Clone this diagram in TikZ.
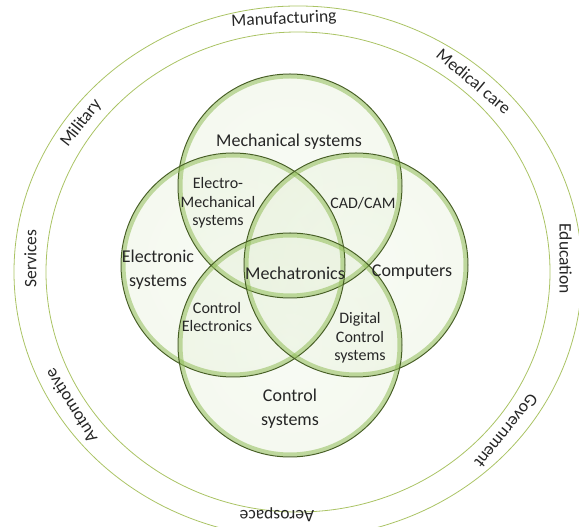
\documentclass[tikz,border=0pt]{standalone}
\usepackage{fontspec}
\setmainfont{Carlito}
\usetikzlibrary{calc}
\definecolor{vgreen}{RGB}{146,190,90}
\definecolor{vdark}{RGB}{70,95,35}
\definecolor{ringgreen}{RGB}{170,195,100}
\pgfdeclareradialshading{glossy}{\pgfpoint{0bp}{0bp}}{%
  color(0bp)=(vgreen!14); color(34bp)=(vgreen!24); color(46bp)=(vgreen!45); color(50bp)=(vgreen!80)}
\tikzset{
  ring/.style={draw=ringgreen, line width=0.8pt},
  venn/.style={shading=glossy, fill opacity=0.45},
  vennedge/.style={draw=vdark, line width=1pt},
  glow/.style={draw=vgreen, line width=4pt, draw opacity=0.55},
  lbl/.style={text=black!85, align=center, font=\fontsize{18}{24}\selectfont},
  sublbl/.style={text=black!85, align=center, font=\fontsize{16}{18.5}\selectfont},
  ringlbl/.style={text=black!85, font=\fontsize{17.5}{20}\selectfont},
}

\begin{document}
\begin{tikzpicture}[x=1pt,y=1pt]
  \useasboundingbox (0,0) rectangle (579,527);
  \coordinate (ctr) at (298,255);
  % application rings
  \draw[ring] (ctr) ellipse [x radius=284, y radius=266];
  \draw[ring] (ctr) ellipse [x radius=252, y radius=240];
  % the four fields
  \coordinate (mech) at (290,341);
  \coordinate (elec) at (233,262);
  \coordinate (comp) at (356,262);
  \coordinate (ctrl) at (290,182);
  \foreach \c in {mech,elec,comp,ctrl}{
    \shade[venn] (\c) circle (112);
  }
  \foreach \c in {mech,elec,comp,ctrl}{
    \draw[glow] (\c) circle (109.5);
    \draw[vennedge] (\c) circle (112);
  }
  % field labels
  \node[lbl] (mechl) at (289,385) {Mechanical systems};
  \node[sublbl] (emech) at (218,324) {Electro-\\Mechanical\\systems};
  \node[sublbl] (cadcam) at (363,324) {CAD/CAM};
  \node[lbl] (elecl) at (158,257) {Electronic\\systems};
  \node[lbl] (mtron) at (295,254) {Mechatronics};
  \node[lbl] (compl) at (412,255) {Computers};
  \node[sublbl] (ctrlel) at (217,210) {Control\\Electronics};
  \node[sublbl] (digctrl) at (360,189) {Digital\\Control\\systems};
  \node[lbl] (ctrll) at (290,118) {Control\\systems};
  % applications, on the ring
  \foreach \ang/\rot/\txt/\nm in {93/3/Manufacturing/manu, 49/-40/Medical care/med,
      144/52/Military/mil, 177/90/Services/serv, 3/-90/Education/edu,
      -39/-129/Government/gov, -148/122/Automotive/auto}{
    \node[ringlbl, rotate=\rot] (\nm) at ($(ctr)+(\ang:268 and 253)$) {\txt};
  }
  \node[ringlbl, rotate=180] (aero) at (277,12) {Aerospace};
\end{tikzpicture}
\end{document}
